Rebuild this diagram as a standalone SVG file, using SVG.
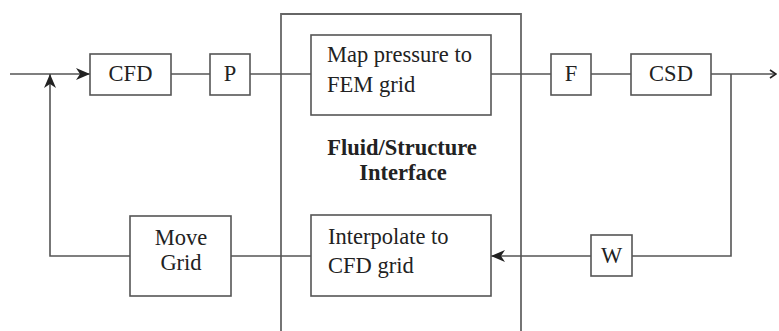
<svg xmlns="http://www.w3.org/2000/svg" width="779" height="331" viewBox="0 0 779 331">
<style>
.box{fill:#fff;stroke:#555;stroke-width:1.6}
.frame{fill:none;stroke:#666;stroke-width:1.8}
.ln{fill:none;stroke:#555;stroke-width:1.6}
.t{font-family:"Liberation Serif","Times New Roman",serif;font-size:22.5px;fill:#222}
.c{text-anchor:middle}
.b{font-family:"Liberation Serif","Times New Roman",serif;font-size:22.5px;font-weight:bold;fill:#222;text-anchor:middle}
</style>
<defs>
<marker id="ah" viewBox="0 0 14 12" refX="14" refY="6" markerWidth="14" markerHeight="12" markerUnits="userSpaceOnUse" orient="auto">
<path d="M0,0 L14,6 L0,12 L4,6 Z" fill="#222"/>
</marker>
<marker id="oh" viewBox="0 0 8 10" refX="7" refY="5" markerWidth="8" markerHeight="10" markerUnits="userSpaceOnUse" orient="auto">
<path d="M1,1 L7,5 L1,9" fill="none" stroke="#222" stroke-width="1.6"/>
</marker>
</defs>
<g id="frame"><path class="frame" d="M281,331 V14 H521 V331"/></g>
<g id="connectors">
<path class="ln" d="M10,74 H90" marker-end="url(#ah)"/>
<path class="ln" d="M171,74 H210"/>
<path class="ln" d="M250,74 H311"/>
<path class="ln" d="M491,74 H551"/>
<path class="ln" d="M591,74 H631"/>
<path class="ln" d="M711,74 H776" marker-end="url(#oh)"/>
<path class="ln" d="M731,74 V256 H632"/>
<path class="ln" d="M591,256 H491" marker-end="url(#ah)"/>
<path class="ln" d="M311,256 H231"/>
<path class="ln" d="M130,256 H50 V74" marker-end="url(#ah)"/>
</g>
<g id="cfd"><rect class="box" x="90" y="54" width="81" height="41"/><text class="t c" x="130.5" y="81">CFD</text></g>
<g id="p"><rect class="box" x="210" y="54" width="40" height="41"/><text class="t c" x="230" y="81">P</text></g>
<g id="map"><rect class="box" x="311" y="35" width="180" height="80"/><text class="t" x="327" y="62">Map pressure to</text><text class="t" x="327" y="92">FEM grid</text></g>
<g id="f"><rect class="box" x="551" y="54" width="40" height="41"/><text class="t c" x="571" y="81">F</text></g>
<g id="csd"><rect class="box" x="631" y="54" width="80" height="41"/><text class="t c" x="671" y="81">CSD</text></g>
<g id="label"><text class="b" x="402" y="155">Fluid/Structure</text><text class="b" x="403" y="180">Interface</text></g>
<g id="interp"><rect class="box" x="311" y="215" width="180" height="81"/><text class="t" x="328" y="244">Interpolate to</text><text class="t" x="328" y="273">CFD grid</text></g>
<g id="w"><rect class="box" x="591" y="235" width="41" height="41"/><text class="t c" x="611.5" y="263">W</text></g>
<g id="move"><rect class="box" x="130" y="216" width="101" height="80"/><text class="t c" x="181" y="245">Move</text><text class="t c" x="181" y="270">Grid</text></g>
</svg>
